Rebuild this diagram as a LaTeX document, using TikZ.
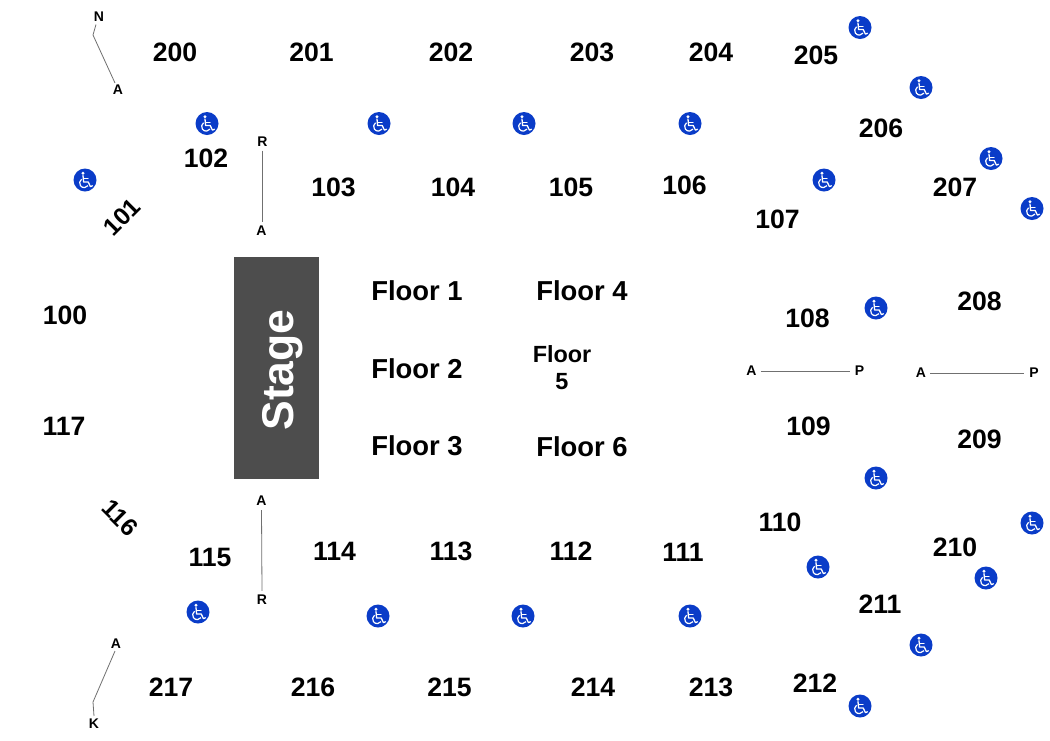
\documentclass[tikz,border=0pt]{standalone}
\usepackage{fontspec}
\setmainfont{Liberation Sans}
\definecolor{wcblue}{HTML}{0A3CC8}
\definecolor{stagegray}{HTML}{4D4D4D}
\definecolor{linegray}{HTML}{707070}
\tikzset{
  x=1pt,y=-1pt,
  sec/.style={font=\fontsize{26.6}{28}\selectfont\bfseries,text=black,inner sep=0pt},
  secrot/.style={font=\fontsize{24.5}{26}\selectfont\bfseries,text=black,inner sep=0pt},
  floorlbl/.style={font=\fontsize{27.4}{28}\selectfont\bfseries,text=black,inner sep=0pt},
  rowlbl/.style={font=\fontsize{14}{15}\selectfont\bfseries,text=black,inner sep=0pt},
  rowline/.style={draw=linegray,line width=0.8pt},
  stagebox/.style={fill=stagegray,draw=none,minimum width=85pt,minimum height=222pt,inner sep=0pt},
  wc/.pic={
    \fill[wcblue] (0,0) circle (11.5);
    \fill[white] (-2,-6.8) circle (1.6);
    \draw[white,line width=1.3pt,line cap=round,line join=round] (-2,-4.4) -- (-1.4,2) -- (3.2,2) -- (5.4,6.6) -- (7.4,5.8);
    \draw[white,line width=1.1pt,line cap=round] (-1.6,-1.2) -- (3,-1.2);
    \draw[white,line width=1.2pt] (-0.8,3) ++(-125:4.6) arc[start angle=-125,end angle=-325,radius=4.6];
  }
}
\begin{document}
\begin{tikzpicture}
\useasboundingbox (0,0) rectangle (1050,740);
\fill[white] (0,0) rectangle (1050,740);
% stage
\node[stagebox] (stage) at (276,368) {};
\node[font=\fontsize{44.5}{46}\selectfont\bfseries,text=white,inner sep=0pt,rotate=90] (stagetxt) at (282.5,370) {Stage};
% sections
\foreach \n/\x/\y in {200/175/52,201/311.5/52,202/451/52,203/592/52,204/711/52,205/816/55,206/881/128,207/955/187,208/979.5/301,209/979.5/439,210/955/547,211/880/604,212/815/683,213/711/687,214/593/687,215/449.5/687,216/313/687,217/171/687,
 102/206/158,103/333.5/187,104/453/187,105/571/187,106/684.5/185,107/777.5/219,108/807.5/318,109/808.5/426,110/780/522,111/683/552,112/571/551,113/451/551,114/334.5/551,115/210/557,100/65/315,117/64/426}
  \node[sec] (s\n) at (\x,\y) {\n};
\node[secrot,rotate=45] (s101) at (122,217) {101};
\node[secrot,rotate=-45] (s116) at (120,518) {116};
% floors
\node[floorlbl] (f1) at (417,291) {Floor 1};
\node[floorlbl] (f2) at (417,369) {Floor 2};
\node[floorlbl] (f3) at (417,446) {Floor 3};
\node[floorlbl] (f4) at (582,291) {Floor 4};
\node[floorlbl] (f6) at (582,447) {Floor 6};
\node[font=\fontsize{23.4}{27}\selectfont\bfseries,text=black,inner sep=0pt,align=center] (f5) at (562,368) {Floor\\5};
% row labels and lines
\node[rowlbl] (n1) at (99,16.5) {N};
\node[rowlbl] (a1) at (118,90) {A};
\coordinate (b1) at (93,35);
\draw[rowline] ([xshift=-3,yshift=-3]n1.south) -- (b1) -- ([xshift=-3,yshift=2]a1.north);
\node[rowlbl] (r1) at (262.5,141.5) {R};
\node[rowlbl] (a2) at (261.5,231) {A};
\draw[rowline] ([yshift=-4]r1.south) -- ([xshift=1,yshift=4]a2.north);
\node[rowlbl] (a3) at (261.5,501) {A};
\node[rowlbl] (r2) at (262,600) {R};
\draw[rowline] ([yshift=-4]a3.south) -- ([yshift=4]r2.north);
\node[rowlbl] (a4) at (116,644) {A};
\node[rowlbl] (k1) at (94,724) {K};
\coordinate (b2) at (93,702);
\draw[rowline] ([xshift=-1,yshift=-2]a4.south) -- (b2) -- ([yshift=3]k1.north);
\node[rowlbl] (a5) at (751.5,371) {A};
\node[rowlbl] (p1) at (859.5,370.5) {P};
\draw[rowline] ([xshift=4]a5.east |- 0,371.5) -- ([xshift=-5]p1.west |- 0,371.5);
\node[rowlbl] (a6) at (921,373) {A};
\node[rowlbl] (p2) at (1034,372.5) {P};
\draw[rowline] ([xshift=4]a6.east |- 0,373.5) -- ([xshift=-5]p2.west |- 0,373.5);
% wheelchair icons
\foreach \x/\y in {860/27.5,921/87.5,991/158.5,1032/208.5,207/123.5,379/123.5,524/123.5,690/123.5,85/180,824/180,876/308,876/478,1032/523,986/578,818/567,921/645,860/706,690/616,523/616,378/616,198/612}
  \pic at (\x,\y) {wc};
\end{tikzpicture}
\end{document}
